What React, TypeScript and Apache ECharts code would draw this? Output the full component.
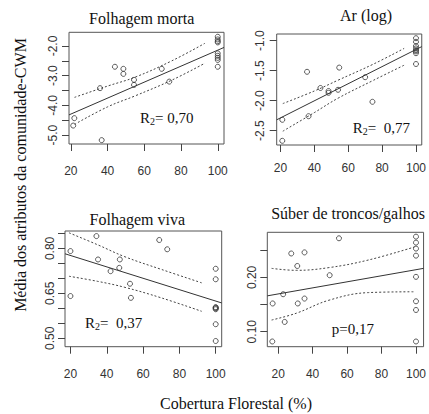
import React, { useEffect, useRef } from "react";
import * as echarts from "echarts";

const X_TICKS = [20, 40, 60, 80, 100];

// Panel 1: Folhagem morta
const FM_X = [21.9, 21.3, 35.9, 36.8, 44, 48.6, 48.6, 54.4, 54.4, 69.5, 73.6, 100, 100, 100, 100, 100, 100, 100, 100, 100];
const FM_Y = [-4.43, -4.68, -3.42, -5.17, -2.7, -2.77, -2.94, -3.14, -3.31, -2.77, -3.2, -1.69, -1.78, -1.84, -1.88, -2.25, -2.33, -2.4, -2.47, -2.7];
const FM_FIT_X = [19, 103.4];
const FM_FIT_Y = [-4.32, -2.05];
const FM_CI_X = [22, 40, 55, 75, 93];
const FM_CI_UP = [-3.73, -3.35, -3.05, -2.5, -1.91];
const FM_CI_LO = [-4.64, -4.05, -3.68, -3.15, -2.58];
const FM_Y_TICKS = [-2.0, -2.5, -3.0, -3.5, -4.0, -4.5, -5.0];
const FM_Y_LABELS = [-2.0, -3.0, -4.0, -5.0];

// Panel 2: Ar (log)
const AR_X = [21.1, 21.1, 35.7, 36.6, 43.6, 48.4, 48.4, 54, 54.7, 70, 74.3, 100, 100, 100, 100, 100, 100, 100, 100];
const AR_Y = [-2.32, -2.67, -1.52, -2.26, -1.79, -1.84, -1.87, -1.82, -1.45, -1.61, -2.02, -0.96, -1.02, -1.09, -1.13, -1.16, -1.18, -1.21, -1.39];
const AR_FIT_X = [17.8, 103.4];
const AR_FIT_Y = [-2.32, -1.1];
const AR_CI_X = [21.4, 40, 54, 75, 93];
const AR_CI_UP = [-2.05, -1.84, -1.66, -1.39, -1.13];
const AR_CI_LO = [-2.51, -2.2, -1.96, -1.66, -1.41];
const AR_Y_TICKS = [-1.0, -1.5, -2.0, -2.5];
const AR_Y_LABELS = [-1.0, -1.5, -2.0, -2.5];

// Panel 3: Folhagem viva
const FV_X = [20, 20, 34.3, 35.2, 42.1, 47.2, 46.9, 52.8, 53.3, 68.9, 73.3, 100, 100, 100, 100, 100, 100, 100, 100];
const FV_Y = [0.791, 0.641, 0.841, 0.763, 0.724, 0.763, 0.735, 0.682, 0.635, 0.828, 0.797, 0.732, 0.697, 0.604, 0.602, 0.6, 0.597, 0.547, 0.491];
const FV_FIT_X = [17, 103.3];
const FV_FIT_Y = [0.782, 0.618];
const FV_CI_X = [19.2, 35, 50, 70, 92.3];
const FV_CI_UP = [0.852, 0.812, 0.772, 0.73, 0.685];
const FV_CI_LO = [0.707, 0.69, 0.67, 0.635, 0.59];
const FV_Y_TICKS = [0.5, 0.55, 0.6, 0.65, 0.7, 0.75, 0.8, 0.85];
const FV_Y_LABELS = [0.5, 0.65, 0.8];

// Panel 4: Súber de troncos/galhos
const SU_X = [16.8, 16.6, 22.9, 23.8, 27.6, 31.1, 31.4, 35.3, 35.3, 49.9, 55.3, 100, 100, 100, 100, 100, 100, 100, 100];
const SU_Y = [0.152, 0.082, 0.169, 0.118, 0.244, 0.221, 0.152, 0.246, 0.161, 0.204, 0.272, 0.275, 0.264, 0.253, 0.24, 0.201, 0.156, 0.14, 0.082];
const SU_FIT_X = [13.7, 104.4];
const SU_FIT_Y = [0.166, 0.2166];
const SU_CI_X = [16.2, 30.5, 49.5, 72.4, 99.1];
const SU_CI_UP = [0.2166, 0.213, 0.218, 0.232, 0.256];
const SU_CI_LO = [0.1215, 0.134, 0.158, 0.172, 0.1735];
const SU_Y_TICKS = [0.1, 0.15, 0.2, 0.25];
const SU_Y_LABELS = [0.1, 0.2];

const TITLES = ["Folhagem morta", "Ar (log)", "Folhagem viva", "Súber de troncos/galhos"];
const STATS = [["R", "2", "= 0,70"], ["R", "2", "=  0,77"], ["R", "2", "=  0,37"], ["", "", "p=0,17"]];
const X_TITLE = "Cobertura Florestal (%)";
const Y_TITLE = "Média dos atributos da comunidade-CWM";

const SERIF = "'Liberation Serif', 'Times New Roman', serif";
const SANS = "'Liberation Sans', Arial, sans-serif";
const INK = "#333";

const zip = (xs: number[], ys: number[]) => xs.map((x, i) => [x, ys[i]]);

export default function App() {
  const ref = useRef<HTMLDivElement>(null);
  useEffect(() => {
    if (!ref.current) return;
    const chart = echarts.init(ref.current, null, { renderer: "svg" });

    const grids = [
      { left: 69, top: 32.3, width: 155, height: 111.7 },
      { left: 276.7, top: 34, width: 154.4, height: 111 },
      { left: 65, top: 231, width: 156.7, height: 115.7 },
      { left: 267.3, top: 232.3, width: 158.7, height: 114.4 },
    ];
    const xr = [[19, 103.4], [17.8, 103.4], [17, 103.3], [13.7, 104.4]];
    const yr = [[-5.3, -1.54], [-2.74, -0.89], [0.472, 0.858], [0.0724, 0.283]];
    const yTicks = [FM_Y_TICKS, AR_Y_TICKS, FV_Y_TICKS, SU_Y_TICKS];
    const yLabels = [FM_Y_LABELS, AR_Y_LABELS, FV_Y_LABELS, SU_Y_LABELS];
    const yDigits = [1, 1, 2, 2];
    const xLabelMargin = [21, 17, 21, 21];
    const yLabelMargin = [10, 11, 9, 9];

    const pts = [zip(FM_X, FM_Y), zip(AR_X, AR_Y), zip(FV_X, FV_Y), zip(SU_X, SU_Y)];
    const fits = [zip(FM_FIT_X, FM_FIT_Y), zip(AR_FIT_X, AR_FIT_Y), zip(FV_FIT_X, FV_FIT_Y), zip(SU_FIT_X, SU_FIT_Y)];
    const ups = [zip(FM_CI_X, FM_CI_UP), zip(AR_CI_X, AR_CI_UP), zip(FV_CI_X, FV_CI_UP), zip(SU_CI_X, SU_CI_UP)];
    const los = [zip(FM_CI_X, FM_CI_LO), zip(AR_CI_X, AR_CI_LO), zip(FV_CI_X, FV_CI_LO), zip(SU_CI_X, SU_CI_LO)];

    const series: any[] = [];
    for (let i = 0; i < 4; i++) {
      series.push({
        type: "line", xAxisIndex: i, yAxisIndex: i, data: fits[i], symbol: "none",
        lineStyle: { color: INK, width: 1 },
      });
      for (const d of [ups[i], los[i]]) {
        series.push({
          type: "line", xAxisIndex: i, yAxisIndex: i, data: d, symbol: "none", smooth: 0.4,
          lineStyle: { color: "#444", width: 1, type: [2, 2] },
        });
      }
      series.push({
        type: "scatter", xAxisIndex: i, yAxisIndex: i, data: pts[i],
        symbol: "circle", symbolSize: 5, z: 5,
        itemStyle: { color: "rgba(0,0,0,0)", borderColor: INK, borderWidth: 1 },
      });
    }

    const titlePos = [[141.7, 18], [366, 15], [137.3, 219], [348, 213]];
    const statPos = [[140, 118], [352.7, 128.3], [85, 323.3], [331.7, 329.3]];
    const graphics: any[] = [];
    TITLES.forEach((t, i) => {
      graphics.push({
        type: "text", x: titlePos[i][0], y: titlePos[i][1],
        style: { text: t, fontFamily: SERIF, fontSize: 16, fill: "#111", align: "center", verticalAlign: "middle" },
      });
    });
    STATS.forEach((s, i) => {
      graphics.push({
        type: "text", x: statPos[i][0], y: statPos[i][1],
        style: {
          text: s[0] ? `{a|${s[0]}}{b|${s[1]}}{a|${s[2]}}` : `{a|${s[2]}}`,
          rich: {
            a: { fontFamily: SERIF, fontSize: 15, fill: "#111", color: "#111" },
            b: { fontFamily: SERIF, fontSize: 10, fill: "#111", color: "#111", verticalAlign: "bottom", padding: [6, 0, 0, 0] },
          },
          align: "left", verticalAlign: "middle",
        },
      });
    });
    graphics.push({
      type: "text", x: 236, y: 403,
      style: { text: X_TITLE, fontFamily: SERIF, fontSize: 16, fill: "#111", align: "center", verticalAlign: "middle" },
    });
    graphics.push({
      type: "text", x: 20, y: 175, rotation: Math.PI / 2,
      style: { text: Y_TITLE, fontFamily: SERIF, fontSize: 16, fill: "#111", align: "center", verticalAlign: "middle" },
    });

    chart.setOption({
      animation: false,
      backgroundColor: "#fff",
      grid: grids.map((g) => ({ ...g, show: true, borderColor: "#555", borderWidth: 1, backgroundColor: "transparent", containLabel: false })),
      xAxis: grids.map((_, i) => ({
        gridIndex: i, type: "value", min: xr[i][0], max: xr[i][1],
        axisLine: { show: false }, splitLine: { show: false },
        axisTick: { show: true, customValues: X_TICKS, length: 7, lineStyle: { color: "#444" } },
        axisLabel: { customValues: X_TICKS, margin: xLabelMargin[i], fontFamily: SANS, fontSize: 12, color: INK },
      })),
      yAxis: grids.map((_, i) => ({
        gridIndex: i, type: "value", min: yr[i][0], max: yr[i][1],
        axisLine: { show: false }, splitLine: { show: false },
        axisTick: { show: true, customValues: yTicks[i], length: 7, lineStyle: { color: "#444" } },
        axisLabel: {
          customValues: yLabels[i], rotate: 90, margin: yLabelMargin[i], fontFamily: SANS, fontSize: 12, color: INK,
          formatter: (v: number) => v.toFixed(yDigits[i]),
        },
      })),
      series,
      graphic: graphics,
    });
    return () => chart.dispose();
  }, []);
  return <div ref={ref} style={{ position: "absolute", left: 0, top: 0, width: 429, height: 414 }} />;
}
